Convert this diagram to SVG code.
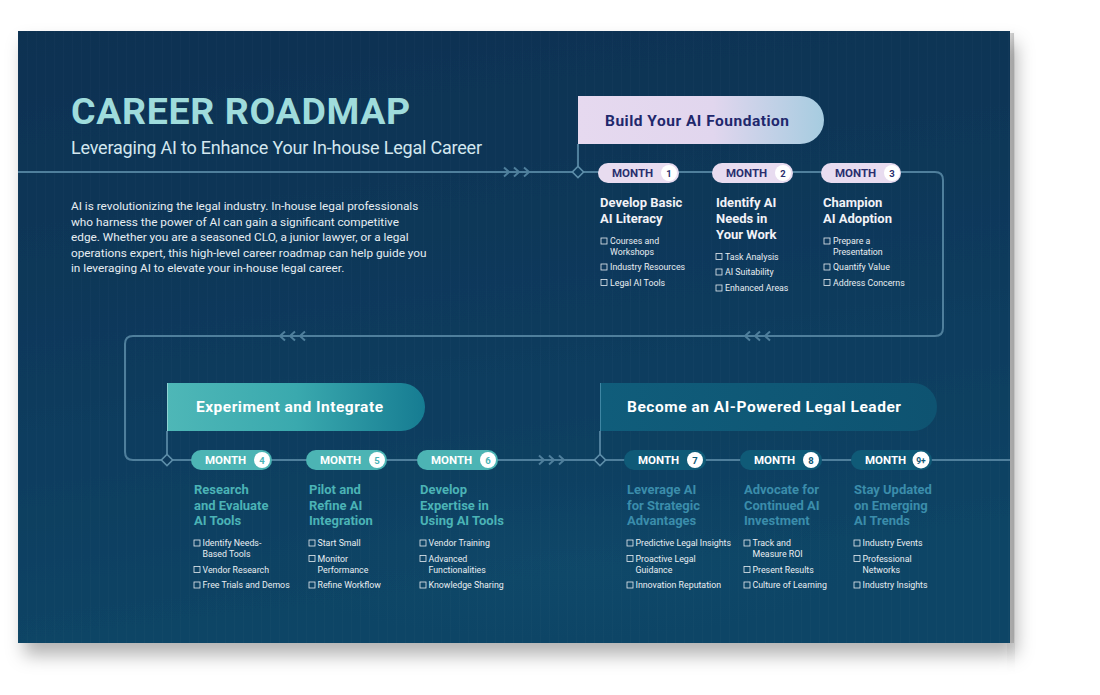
<svg xmlns="http://www.w3.org/2000/svg" width="1100" height="695" viewBox="0 0 1100 695">
<defs>
<linearGradient id="bg" x1="0" y1="0" x2="0.2" y2="1">
<stop offset="0" stop-color="#0b3151"/>
<stop offset="0.55" stop-color="#0d3a5c"/>
<stop offset="1" stop-color="#0f4566"/>
</linearGradient>
<pattern id="stripes" width="9" height="10" patternUnits="userSpaceOnUse">
<rect x="0" y="0" width="1" height="10" fill="#ffffff" opacity="0.015"/>
</pattern>
<linearGradient id="gFound" x1="0" y1="0" x2="1" y2="0">
<stop offset="0" stop-color="#e6d9ef"/>
<stop offset="0.55" stop-color="#e1d6ee"/>
<stop offset="1" stop-color="#a6cce0"/>
</linearGradient>
<linearGradient id="gExp" x1="0" y1="0" x2="1" y2="0">
<stop offset="0" stop-color="#4eb7b7"/>
<stop offset="0.5" stop-color="#3aa9ae"/>
<stop offset="1" stop-color="#167c92"/>
</linearGradient>
<linearGradient id="gLead" x1="0" y1="0" x2="1" y2="0">
<stop offset="0" stop-color="#105d7b"/>
<stop offset="1" stop-color="#0e5371"/>
</linearGradient>
<linearGradient id="edge" x1="0" y1="0" x2="1" y2="0">
<stop offset="0" stop-color="#e4e4e4"/>
<stop offset="1" stop-color="#c9c9c9"/>
</linearGradient>
<radialGradient id="glow" cx="0.5" cy="0.5" r="0.5">
<stop offset="0" stop-color="#1a5a7c" stop-opacity="0.18"/>
<stop offset="1" stop-color="#1a5a7c" stop-opacity="0"/>
</radialGradient>
<filter id="sh" x="-5%" y="-5%" width="115%" height="125%">
<feDropShadow dx="6" dy="12" stdDeviation="9" flood-color="#000000" flood-opacity="0.3"/>
</filter>
<path id="chevR" d="M0,-4.5 L5,0 L0,4.5" fill="none" stroke="#4f7f9c" stroke-width="2"/>
<path id="chevL" d="M0,-4.5 L-5,0 L0,4.5" fill="none" stroke="#4f7f9c" stroke-width="2"/>
</defs>
<style>
text{font-family:Roboto,"Liberation Sans",sans-serif}
.title{font-size:37.5px;font-weight:700;fill:#9fdcdc;letter-spacing:0.8px}
.sub{font-size:18px;fill:#d3e7ef}
.para{font-size:11.8px;fill:#e6edf2}
.ban{font-size:15.5px;font-weight:700}
.mo{font-size:11.5px;font-weight:700}
.num{font-size:9.5px;font-weight:700;text-anchor:middle}
.hd{font-size:13px;font-weight:700}
.hw{fill:#f2f2f7}
.ht{fill:#4bb3b6}
.hb{fill:#3b8dab}
.it{font-size:8.8px;fill:#e9eef2}
.ln{fill:none;stroke:#4f7f9c;stroke-width:2}
.box{fill:none;stroke:#e9eef2;stroke-width:0.8}
.dia{fill:#0d3a5c;stroke:#5d8ea9;stroke-width:1.6}
.pL{fill:#e8dcf0}
.pT{fill:#4cb4b4}
.pD{fill:#0f5a77}
</style>

<!-- board -->
<g id="board">
<rect x="1008" y="33" width="6" height="610" fill="url(#edge)" filter="url(#sh)"/>
<rect x="18" y="31" width="992" height="612" fill="url(#bg)" filter="url(#sh)"/>
<rect x="18" y="31" width="992" height="612" fill="url(#stripes)"/>
<ellipse cx="560" cy="560" rx="300" ry="80" fill="url(#glow)"/>
</g>

<!-- header -->
<g id="header">
<text class="title" x="71" y="123.5" textLength="340">CAREER ROADMAP</text>
<text class="sub" x="71" y="154" textLength="411">Leveraging AI to Enhance Your In-house Legal Career</text>
</g>

<g id="intro">
<text class="para" x="71" y="210">AI is revolutionizing the legal industry. In-house legal professionals</text>
<text class="para" x="71" y="225.5">who harness the power of AI can gain a significant competitive</text>
<text class="para" x="71" y="241">edge. Whether you are a seasoned CLO, a junior lawyer, or a legal</text>
<text class="para" x="71" y="256.5">operations expert, this high-level career roadmap can help guide you</text>
<text class="para" x="71" y="272">in leveraging AI to elevate your in-house legal career.</text>
</g>

<!-- connectors -->
<g id="connectors">
<path class="ln" d="M18,172 H935 Q943,172 943,180 V328 Q943,336 935,336 H133 Q125,336 125,344 V452 Q125,460 133,460 H1010"/>
<path class="ln" d="M578,144 V172"/>
<path class="ln" d="M167,431 V460"/>
<path class="ln" d="M600,431 V460"/>
<use href="#chevR" x="504" y="172"/><use href="#chevR" x="514" y="172"/><use href="#chevR" x="524" y="172"/>
<use href="#chevL" x="750" y="336"/><use href="#chevL" x="760" y="336"/><use href="#chevL" x="770" y="336"/>
<use href="#chevL" x="285" y="336"/><use href="#chevL" x="295" y="336"/><use href="#chevL" x="305" y="336"/>
<use href="#chevR" x="539" y="460"/><use href="#chevR" x="549" y="460"/><use href="#chevR" x="559" y="460"/>
<rect class="dia" x="574" y="168" width="8" height="8" transform="rotate(45 578 172)"/>
<rect class="dia" x="163" y="456" width="8" height="8" transform="rotate(45 167 460)"/>
<rect class="dia" x="596" y="456" width="8" height="8" transform="rotate(45 600 460)"/>
</g>

<!-- phase banners -->
<g id="phase1">
<path d="M578,96 H800 A24,24 0 0 1 800,144 H578 Z" fill="url(#gFound)"/>
<text class="ban" x="605" y="125.5" fill="#1f286c" textLength="184">Build Your AI Foundation</text>
</g>
<g id="phase2">
<path d="M167,383 H401 A24,24 0 0 1 401,431 H167 Z" fill="url(#gExp)"/>
<line x1="167.5" y1="383" x2="167.5" y2="431" stroke="#8fd3d3" stroke-width="1"/>
<text class="ban" x="196" y="412" fill="#ffffff" textLength="187">Experiment and Integrate</text>
</g>
<g id="phase3">
<path d="M600,383 H913 A24,24 0 0 1 913,431 H600 Z" fill="url(#gLead)"/>
<line x1="600.5" y1="383" x2="600.5" y2="431" stroke="#3f86a3" stroke-width="1"/>
<text class="ban" x="627" y="412" fill="#ffffff" textLength="274">Become an AI-Powered Legal Leader</text>
</g>

<!-- month 1 -->
<g id="month1">
<rect class="pL" x="598" y="163" width="81" height="20" rx="10"/>
<text class="mo" x="612" y="177.3" fill="#2a2f6e">MONTH</text>
<circle cx="669" cy="173" r="8" fill="#ffffff"/>
<text class="num" x="669" y="176.5" fill="#2a2f6e">1</text>
<text class="hd hw" x="600" y="206.5">Develop Basic</text>
<text class="hd hw" x="600" y="222.5">AI Literacy</text>
<rect class="box" x="601" y="238" width="6" height="6"/>
<text class="it" x="610" y="244">Courses and</text>
<text class="it" x="610" y="255">Workshops</text>
<rect class="box" x="601" y="264" width="6" height="6"/>
<text class="it" x="610" y="270">Industry Resources</text>
<rect class="box" x="601" y="279.5" width="6" height="6"/>
<text class="it" x="610" y="285.5">Legal AI Tools</text>
</g>

<!-- month 2 -->
<g id="month2">
<rect class="pL" x="712" y="163" width="81" height="20" rx="10"/>
<text class="mo" x="726" y="177.3" fill="#2a2f6e">MONTH</text>
<circle cx="783" cy="173" r="8" fill="#ffffff"/>
<text class="num" x="783" y="176.5" fill="#2a2f6e">2</text>
<text class="hd hw" x="716" y="206.5">Identify AI</text>
<text class="hd hw" x="716" y="222.5">Needs in</text>
<text class="hd hw" x="716" y="238.5">Your Work</text>
<rect class="box" x="716" y="253.5" width="6" height="6"/>
<text class="it" x="725" y="259.5">Task Analysis</text>
<rect class="box" x="716" y="269" width="6" height="6"/>
<text class="it" x="725" y="275">AI Suitability</text>
<rect class="box" x="716" y="285" width="6" height="6"/>
<text class="it" x="725" y="291">Enhanced Areas</text>
</g>

<!-- month 3 -->
<g id="month3">
<rect class="pL" x="821" y="163" width="80" height="20" rx="10"/>
<text class="mo" x="835" y="177.3" fill="#2a2f6e">MONTH</text>
<circle cx="892" cy="173" r="8" fill="#ffffff"/>
<text class="num" x="892" y="176.5" fill="#2a2f6e">3</text>
<text class="hd hw" x="823" y="206.5">Champion</text>
<text class="hd hw" x="823" y="222.5">AI Adoption</text>
<rect class="box" x="824" y="238" width="6" height="6"/>
<text class="it" x="833" y="244">Prepare a</text>
<text class="it" x="833" y="255">Presentation</text>
<rect class="box" x="824" y="264" width="6" height="6"/>
<text class="it" x="833" y="270">Quantify Value</text>
<rect class="box" x="824" y="279.5" width="6" height="6"/>
<text class="it" x="833" y="285.5">Address Concerns</text>
</g>

<!-- month 4 -->
<g id="month4">
<rect class="pT" x="191" y="450" width="81" height="20" rx="10"/>
<text class="mo" x="205" y="464.3" fill="#ffffff">MONTH</text>
<circle cx="262" cy="460" r="8" fill="#ffffff"/>
<text class="num" x="262" y="463.5" fill="#4bb3b6">4</text>
<text class="hd ht" x="194" y="494">Research</text>
<text class="hd ht" x="194" y="509.5">and Evaluate</text>
<text class="hd ht" x="194" y="525">AI Tools</text>
<rect class="box" x="194" y="540" width="6" height="6"/>
<text class="it" x="202.5" y="546">Identify Needs-</text>
<text class="it" x="202.5" y="557">Based Tools</text>
<rect class="box" x="194" y="566.5" width="6" height="6"/>
<text class="it" x="202.5" y="572.5">Vendor Research</text>
<rect class="box" x="194" y="582" width="6" height="6"/>
<text class="it" x="202.5" y="588">Free Trials and Demos</text>
</g>

<!-- month 5 -->
<g id="month5">
<rect class="pT" x="306" y="450" width="81" height="20" rx="10"/>
<text class="mo" x="320" y="464.3" fill="#ffffff">MONTH</text>
<circle cx="377" cy="460" r="8" fill="#ffffff"/>
<text class="num" x="377" y="463.5" fill="#4bb3b6">5</text>
<text class="hd ht" x="309" y="494">Pilot and</text>
<text class="hd ht" x="309" y="509.5">Refine AI</text>
<text class="hd ht" x="309" y="525">Integration</text>
<rect class="box" x="309" y="540" width="6" height="6"/>
<text class="it" x="317.5" y="546">Start Small</text>
<rect class="box" x="309" y="555.5" width="6" height="6"/>
<text class="it" x="317.5" y="561.5">Monitor</text>
<text class="it" x="317.5" y="572.5">Performance</text>
<rect class="box" x="309" y="582" width="6" height="6"/>
<text class="it" x="317.5" y="588">Refine Workflow</text>
</g>

<!-- month 6 -->
<g id="month6">
<rect class="pT" x="417" y="450" width="81" height="20" rx="10"/>
<text class="mo" x="431" y="464.3" fill="#ffffff">MONTH</text>
<circle cx="488" cy="460" r="8" fill="#ffffff"/>
<text class="num" x="488" y="463.5" fill="#4bb3b6">6</text>
<text class="hd ht" x="420" y="494">Develop</text>
<text class="hd ht" x="420" y="509.5">Expertise in</text>
<text class="hd ht" x="420" y="525">Using AI Tools</text>
<rect class="box" x="420" y="540" width="6" height="6"/>
<text class="it" x="428.5" y="546">Vendor Training</text>
<rect class="box" x="420" y="555.5" width="6" height="6"/>
<text class="it" x="428.5" y="561.5">Advanced</text>
<text class="it" x="428.5" y="572.5">Functionalities</text>
<rect class="box" x="420" y="582" width="6" height="6"/>
<text class="it" x="428.5" y="588">Knowledge Sharing</text>
</g>

<!-- month 7 -->
<g id="month7">
<rect class="pD" x="624" y="450" width="82" height="20" rx="10"/>
<text class="mo" x="638" y="464.3" fill="#ffffff">MONTH</text>
<circle cx="695" cy="460" r="8" fill="#ffffff"/>
<text class="num" x="695" y="463.5" fill="#0f5a77">7</text>
<text class="hd hb" x="627" y="494">Leverage AI</text>
<text class="hd hb" x="627" y="509.5">for Strategic</text>
<text class="hd hb" x="627" y="525">Advantages</text>
<rect class="box" x="627" y="540" width="6" height="6"/>
<text class="it" x="635.5" y="546">Predictive Legal Insights</text>
<rect class="box" x="627" y="555.5" width="6" height="6"/>
<text class="it" x="635.5" y="561.5">Proactive Legal</text>
<text class="it" x="635.5" y="572.5">Guidance</text>
<rect class="box" x="627" y="582" width="6" height="6"/>
<text class="it" x="635.5" y="588">Innovation Reputation</text>
</g>

<!-- month 8 -->
<g id="month8">
<rect class="pD" x="740" y="450" width="82" height="20" rx="10"/>
<text class="mo" x="754" y="464.3" fill="#ffffff">MONTH</text>
<circle cx="811" cy="460" r="8" fill="#ffffff"/>
<text class="num" x="811" y="463.5" fill="#0f5a77">8</text>
<text class="hd hb" x="744" y="494">Advocate for</text>
<text class="hd hb" x="744" y="509.5">Continued AI</text>
<text class="hd hb" x="744" y="525">Investment</text>
<rect class="box" x="744" y="540" width="6" height="6"/>
<text class="it" x="752.5" y="546">Track and</text>
<text class="it" x="752.5" y="557">Measure ROI</text>
<rect class="box" x="744" y="566.5" width="6" height="6"/>
<text class="it" x="752.5" y="572.5">Present Results</text>
<rect class="box" x="744" y="582" width="6" height="6"/>
<text class="it" x="752.5" y="588">Culture of Learning</text>
</g>

<!-- month 9+ -->
<g id="month9">
<rect class="pD" x="851" y="450" width="81" height="20" rx="10"/>
<text class="mo" x="865" y="464.3" fill="#ffffff">MONTH</text>
<circle cx="921" cy="460" r="8.5" fill="#ffffff"/>
<text class="num" x="921" y="463.5" fill="#0f5a77" style="font-size:8.5px">9+</text>
<text class="hd hb" x="854" y="494">Stay Updated</text>
<text class="hd hb" x="854" y="509.5">on Emerging</text>
<text class="hd hb" x="854" y="525">AI Trends</text>
<rect class="box" x="854" y="540" width="6" height="6"/>
<text class="it" x="862.5" y="546">Industry Events</text>
<rect class="box" x="854" y="555.5" width="6" height="6"/>
<text class="it" x="862.5" y="561.5">Professional</text>
<text class="it" x="862.5" y="572.5">Networks</text>
<rect class="box" x="854" y="582" width="6" height="6"/>
<text class="it" x="862.5" y="588">Industry Insights</text>
</g>
</svg>
